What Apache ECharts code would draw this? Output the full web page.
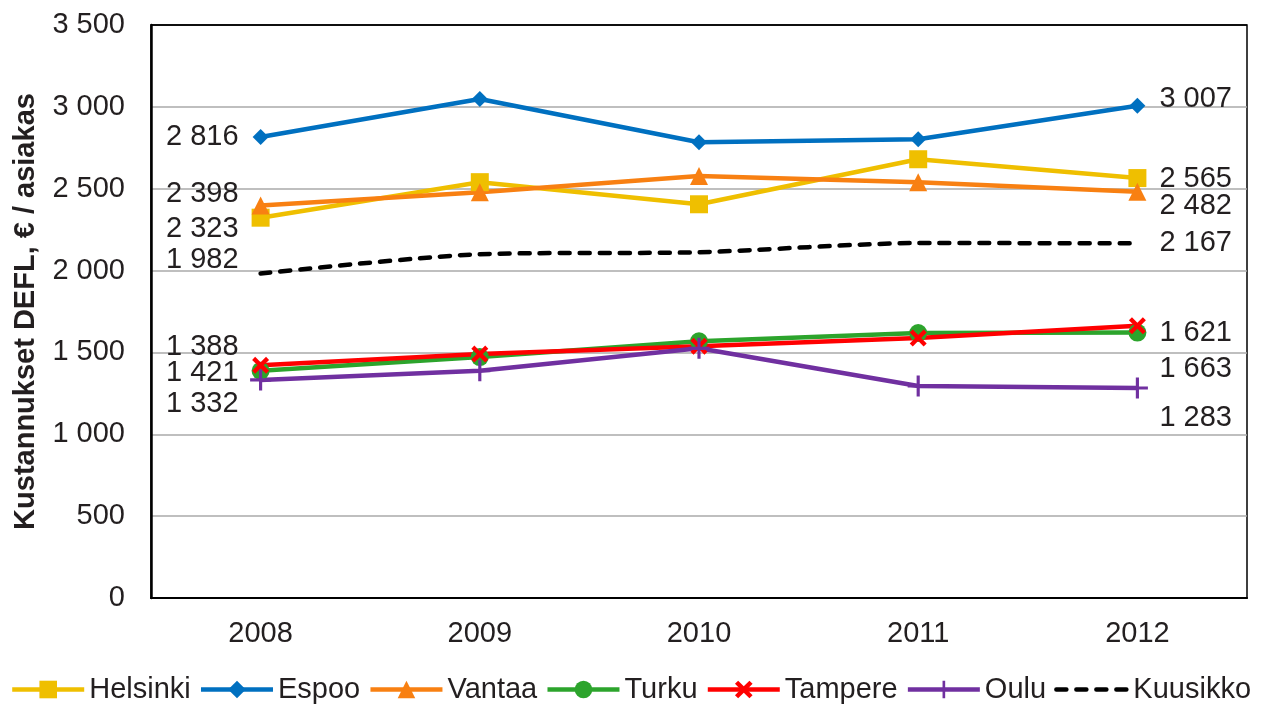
<!DOCTYPE html>
<html><head><meta charset="utf-8">
<script src="https://cdn.jsdelivr.net/npm/echarts@6/dist/echarts.min.js"></script>
<style>html,body{margin:0;padding:0;background:#fff}#c{width:1261px;height:704px}</style>
</head><body><div id="c"></div>
<script>
const years = ['2008','2009','2010','2011','2012'];
const helsinki = [2323, 2540, 2405, 2680, 2565];
const espoo    = [2816, 3048, 2784, 2802, 3007];
const vantaa   = [2398, 2478, 2578, 2540, 2482];
const turku    = [1388, 1472, 1568, 1618, 1621];
const tampere  = [1421, 1490, 1538, 1588, 1663];
const oulu     = [1332, 1388, 1525, 1295, 1283];
const kuusikko = [1982, 2100, 2112, 2168, 2167];
const yTicks = [0, 500, 1000, 1500, 2000, 2500, 3000, 3500];

const fmt = v => String(v).replace(/\B(?=(\d{3})+(?!\d))/g, ' ');
const FONT = 'Liberation Sans, Arial, sans-serif';
const TXT = '#231f20';
const FS = 29;

function makeData(vals, offL, offR, dist) {
  return vals.map((v, i) => {
    if (i === 0) return {value: v, label: {show: true, position: 'left', distance: dist, offset: [0, offL]}};
    if (i === vals.length - 1) return {value: v, label: {show: true, position: 'right', distance: dist, offset: [0, offR]}};
    return v;
  });
}
const X_PATH = 'path://M1.8,0 L5,3.2 L8.2,0 L10,1.8 L6.8,5 L10,8.2 L8.2,10 L5,6.8 L1.8,10 L0,8.2 L3.2,5 L0,1.8 Z';
const PLUS_PATH = 'path://M4.25,0 H5.75 V4.25 H10 V5.75 H5.75 V10 H4.25 V5.75 H0 V4.25 H4.25 Z';

function line(name, vals, color, symbol, size, offL, offR, extra) {
  return Object.assign({
    name, type: 'line', data: makeData(vals, offL, offR, Math.max(4, 22 - size / 2)),
    symbol, symbolSize: size, showAllSymbol: true,
    lineStyle: {color, width: 4.5},
    itemStyle: {color},
    label: {formatter: p => fmt(p.value), fontSize: FS, color: TXT, fontFamily: FONT},
    emphasis: {disabled: true}, animation: false
  }, extra || {});
}

const series = [
  line('Helsinki', helsinki, '#EFBF00', 'rect', 18, 11, 1),
  line('Espoo', espoo, '#0070C0', 'diamond', 16, 0, -7),
  line('Vantaa', vantaa, '#F88012', 'triangle', 18, -11, 14),
  line('Turku', turku, '#2CA42C', 'circle', 18, -24, 0),
  line('Tampere', tampere, '#FF0000', X_PATH, 17, 8, 43),
  line('Oulu', oulu, '#7030A0', PLUS_PATH, 21, 24, 30),
  line('Kuusikko', kuusikko, '#000000', 'circle', 0.01, -14, 0,
    {smooth: 0.25, lineStyle: {color: '#000', width: 4.5, type: [10, 10], cap: 'round'}})
];

const gridColors = yTicks.map((t, i) => i === yTicks.length - 1 ? '#000' : '#aaaaaa');

const chart = echarts.init(document.getElementById('c'));
chart.setOption({
  backgroundColor: '#fff',
  textStyle: {fontFamily: FONT},
  grid: {left: 151, right: 14, top: 25, bottom: 106, show: true, borderColor: '#000', borderWidth: 1.5},
  legend: {
    bottom: -5, left: 'center', itemWidth: 72, itemHeight: 22, itemGap: 8,
    lineStyle: {width: 4.5},
    textStyle: {fontSize: FS, color: TXT, fontFamily: FONT},
    data: series.map(s => s.name === 'Kuusikko' ? {name: s.name, itemStyle: {opacity: 0}} : s.name)
  },
  xAxis: {
    type: 'category', data: years, boundaryGap: true,
    axisLine: {lineStyle: {color: '#000', width: 2}},
    axisTick: {alignWithLabel: true, length: 8, lineStyle: {color: '#000', width: 1.5}},
    axisLabel: {fontSize: FS, color: TXT, margin: 21, fontFamily: FONT}
  },
  yAxis: {
    type: 'value', min: yTicks[0], max: yTicks[yTicks.length - 1], interval: 500,
    name: 'Kustannukset DEFL, € / asiakas', nameLocation: 'middle', nameGap: 111,
    nameTextStyle: {fontSize: FS, fontWeight: 'bold', color: TXT, fontFamily: FONT},
    axisLine: {show: true, lineStyle: {color: '#000', width: 2.5}},
    axisTick: {show: false},
    splitLine: {lineStyle: {color: gridColors, width: 1.5}},
    axisLabel: {fontSize: FS, color: TXT, margin: 26, fontFamily: FONT, formatter: v => fmt(v)}
  },
  series
});
</script></body></html>
